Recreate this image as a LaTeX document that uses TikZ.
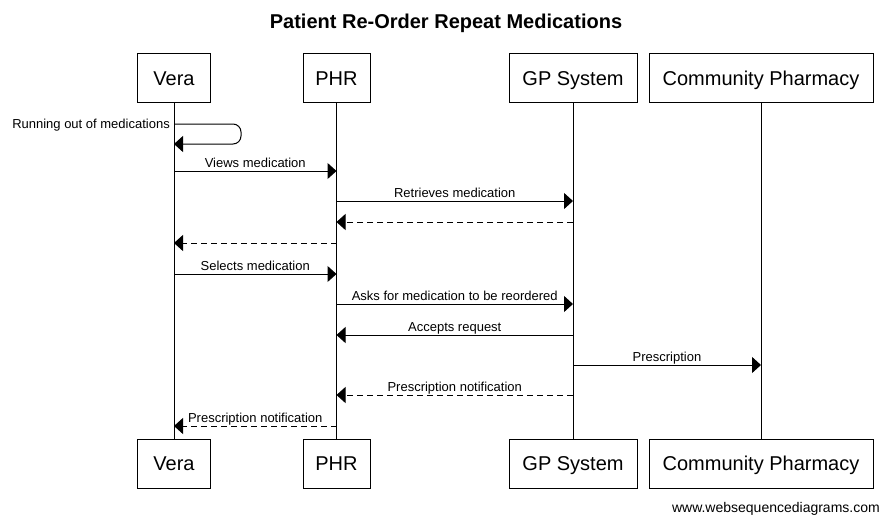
\documentclass[tikz,border=0pt]{standalone}
\usepackage{fontspec}
\setmainfont{Liberation Sans}
\usetikzlibrary{arrows.meta}
\tikzset{
  actor/.style={draw, line width=1pt, inner sep=0pt, minimum height=49pt, text height=14pt, text depth=0pt, font=\fontsize{20}{22}\selectfont},
  life/.style={line width=1pt},
  msg/.style={line width=1pt, -{Triangle[length=9pt,width=16pt]}},
  ret/.style={msg, dash pattern=on 6pt off 4pt},
  txt/.style={inner sep=0pt, font=\fontsize{13}{15}\selectfont},
  lbl/.style={txt, anchor=base, yshift=4pt},
}
\begin{document}
\begin{tikzpicture}[x=1pt,y=-1pt]
\useasboundingbox (0,0) rectangle (889,523);
\node[font=\bfseries\fontsize{20}{24}\selectfont, anchor=base] (title) at (446,28) {Patient Re-Order Repeat Medications};
% participants
\node[actor, minimum width=73pt] (veraT) at (174,78) {Vera};
\node[actor, minimum width=67pt] (phrT) at (336.5,78) {PHR};
\node[actor, minimum width=128pt] (gpT) at (573,78) {GP System};
\node[actor, minimum width=224pt] (cpT) at (761,78) {Community Pharmacy};
\node[actor, minimum width=73pt] (veraB) at (174,463.5) {Vera};
\node[actor, minimum width=67pt] (phrB) at (336.5,463.5) {PHR};
\node[actor, minimum width=128pt] (gpB) at (573,463.5) {GP System};
\node[actor, minimum width=224pt] (cpB) at (761,463.5) {Community Pharmacy};
\draw[life] (veraT.south) -- (veraB.north);
\draw[life] (phrT.south) -- (phrB.north);
\draw[life] (gpT.south) -- (gpB.north);
\draw[life] (cpT.south) -- (cpB.north);
% rows
\coordinate (r0) at (0,124);
\coordinate (r0b) at (0,144);
\coordinate (loop) at (241,0);
\coordinate (r1) at (0,171);
\coordinate (r2) at (0,201);
\coordinate (r3) at (0,222);
\coordinate (r4) at (0,243);
\coordinate (r5) at (0,274);
\coordinate (r6) at (0,304);
\coordinate (r7) at (0,335);
\coordinate (r8) at (0,365);
\coordinate (r9) at (0,395);
\coordinate (r10) at (0,426);
% self message
\draw[msg, rounded corners=8pt] (veraT |- r0) -- (loop |- r0) -- (loop |- r0b) -- (veraT |- r0b);
\node[txt, anchor=base east] (l0) at (170,128.5) {Running out of medications};
% messages
\draw[msg] (veraT |- r1) -- node[lbl] {Views medication} (phrT |- r1);
\draw[msg] (phrT |- r2) -- node[lbl] {Retrieves medication} (gpT |- r2);
\draw[ret] (gpT |- r3) -- (phrT |- r3);
\draw[ret] (phrT |- r4) -- (veraT |- r4);
\draw[msg] (veraT |- r5) -- node[lbl] {Selects medication} (phrT |- r5);
\draw[msg] (phrT |- r6) -- node[lbl] {Asks for medication to be reordered} (gpT |- r6);
\draw[msg] (gpT |- r7) -- node[lbl] {Accepts request} (phrT |- r7);
\draw[msg] (gpT |- r8) -- node[lbl] {Prescription} (cpT |- r8);
\draw[ret] (gpT |- r9) -- node[lbl] {Prescription notification} (phrT |- r9);
\draw[ret] (phrT |- r10) -- node[lbl] {Prescription notification} (veraT |- r10);
\node[anchor=base east, inner sep=0pt, font=\fontsize{14}{16}\selectfont] (wm) at (880,512) {www.websequencediagrams.com};
\end{tikzpicture}
\end{document}
